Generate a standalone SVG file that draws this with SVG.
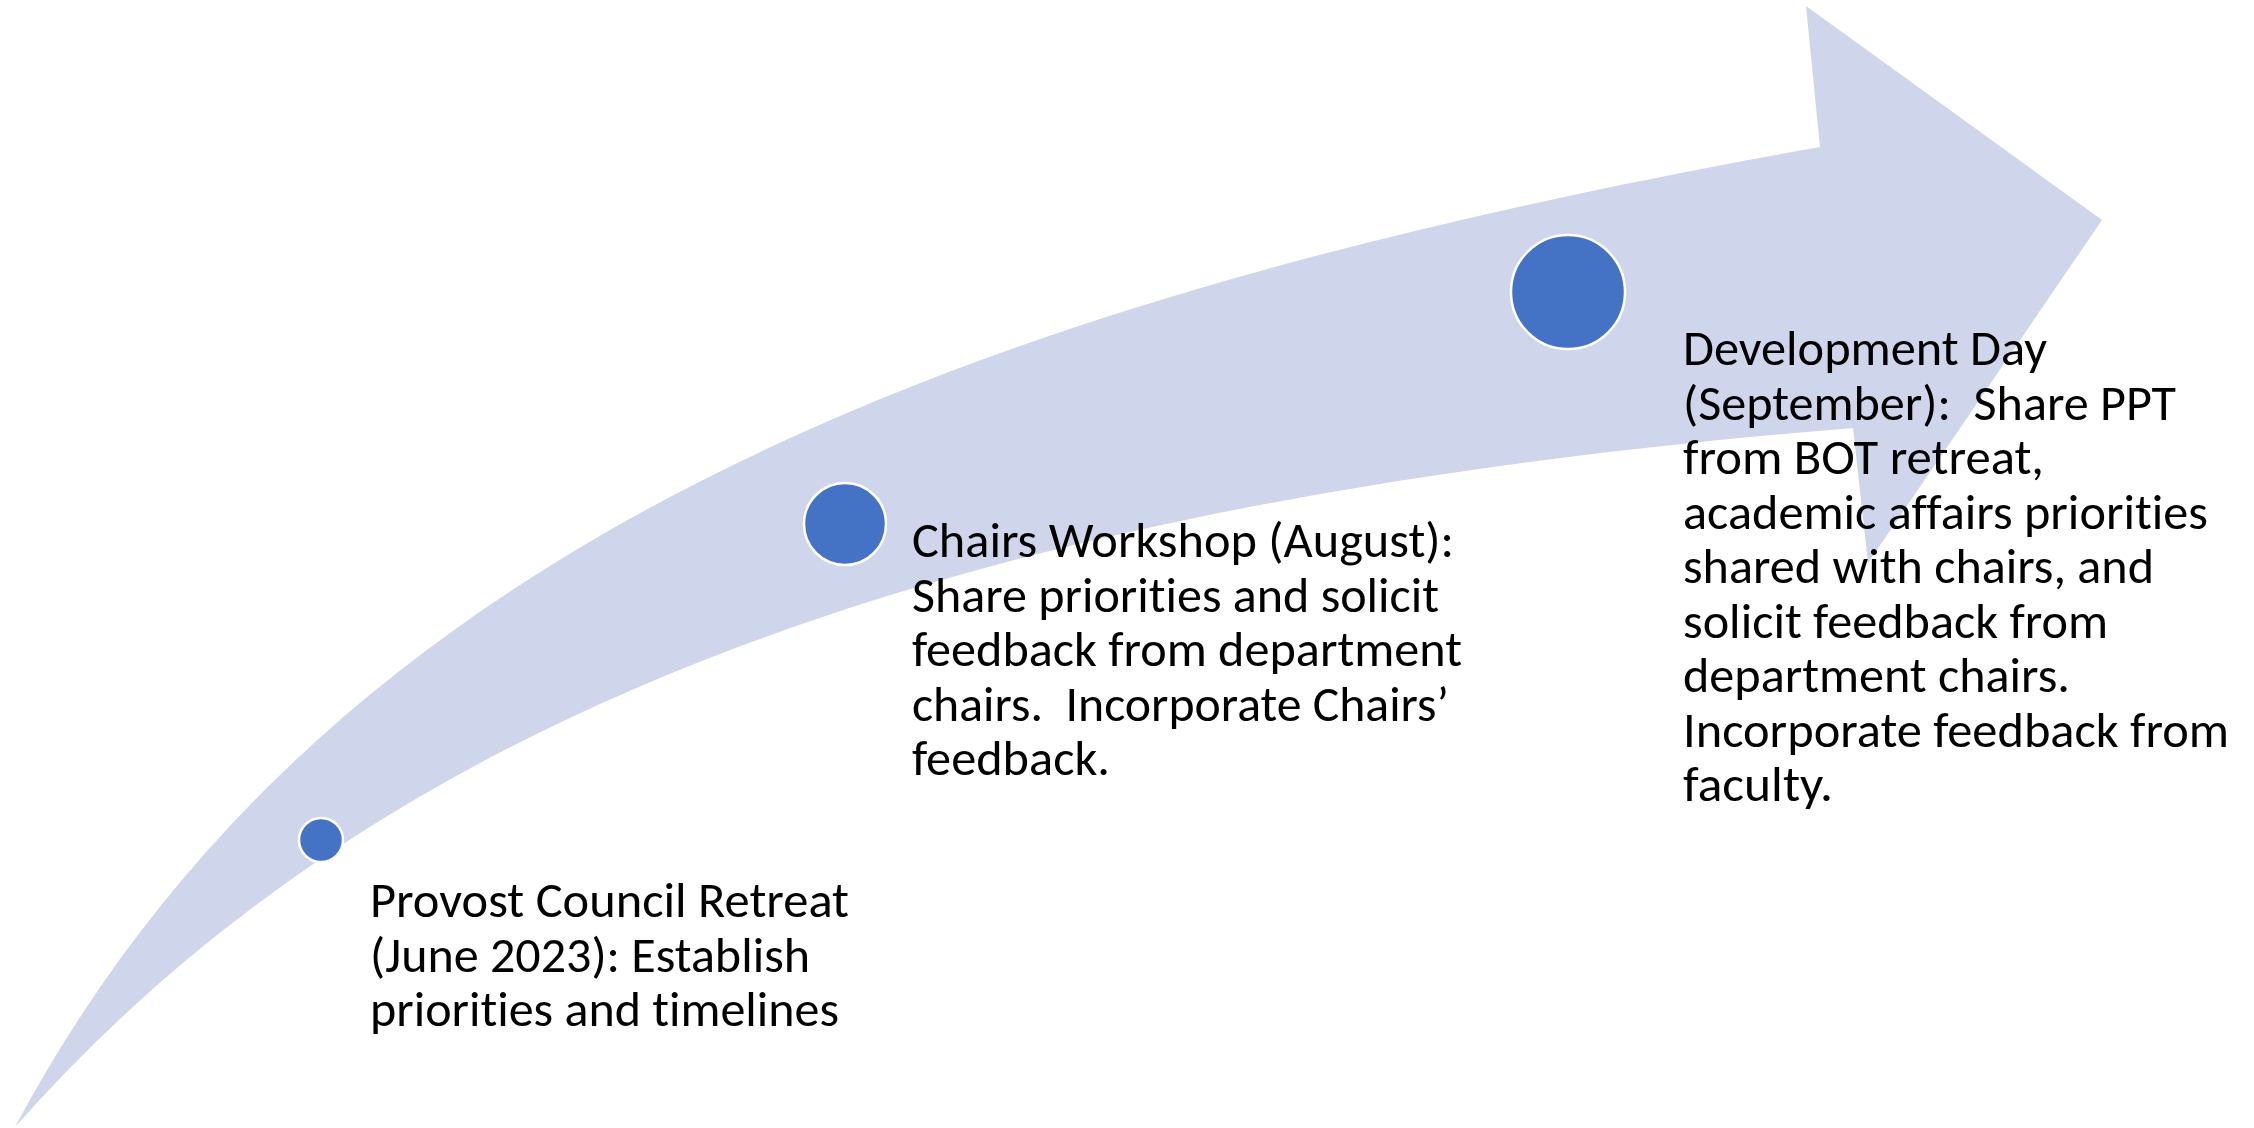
<svg xmlns="http://www.w3.org/2000/svg" width="2254" height="1128" viewBox="0 0 2254 1128">
<style>
.bg{fill:#ffffff}
.arrow{fill:#CFD5EA}
.dot{fill:#4472C4;stroke:#ffffff;stroke-width:2.5}
.lbl{font-family:Carlito,Calibri,Lato,"Liberation Sans",sans-serif;font-size:50px;fill:#000000;font-variant-ligatures:none;font-feature-settings:"liga" 0,"clig" 0}
</style>
<rect class="bg" x="0" y="0" width="2254" height="1128"/>
<g id="timeline-arrow">
<path class="arrow" d="M15,1127 C320.5,555 934,304.5 1820,147 L1806,6 L2102,220 L1868,563 L1853,428 C955.7,500.9 385.7,707.6 15,1127 Z"/>
</g>
<g id="connectors"></g>
<g id="node-provost">
<circle class="dot" cx="321" cy="840" r="22"/>
<text class="lbl" xml:space="preserve"><tspan x="370" y="917" textLength="479" lengthAdjust="spacingAndGlyphs">Provost Council Retreat</tspan><tspan x="370" y="971.5" textLength="440" lengthAdjust="spacingAndGlyphs">(June 2023): Establish</tspan><tspan x="370" y="1026" textLength="469" lengthAdjust="spacingAndGlyphs">priorities and timelines</tspan></text>
</g>
<g id="node-chairs">
<circle class="dot" cx="845" cy="524" r="41"/>
<text class="lbl" xml:space="preserve"><tspan x="912" y="557" textLength="542" lengthAdjust="spacingAndGlyphs">Chairs Workshop (August):</tspan><tspan x="912" y="611.5" textLength="527" lengthAdjust="spacingAndGlyphs">Share priorities and solicit</tspan><tspan x="912" y="666" textLength="550" lengthAdjust="spacingAndGlyphs">feedback from department</tspan><tspan x="912" y="720.5" textLength="537" lengthAdjust="spacingAndGlyphs">chairs.  Incorporate Chairs’</tspan><tspan x="912" y="775" textLength="198" lengthAdjust="spacingAndGlyphs">feedback.</tspan></text>
</g>
<g id="node-development">
<circle class="dot" cx="1568" cy="292" r="57"/>
<text class="lbl" xml:space="preserve"><tspan x="1683" y="365" textLength="364" lengthAdjust="spacingAndGlyphs">Development Day</tspan><tspan x="1683" y="419.5" textLength="493" lengthAdjust="spacingAndGlyphs">(September):  Share PPT</tspan><tspan x="1683" y="474" textLength="361" lengthAdjust="spacingAndGlyphs">from BOT retreat,</tspan><tspan x="1683" y="528.5" textLength="525" lengthAdjust="spacingAndGlyphs">academic affairs priorities</tspan><tspan x="1683" y="583" textLength="471" lengthAdjust="spacingAndGlyphs">shared with chairs, and</tspan><tspan x="1683" y="637.5" textLength="425" lengthAdjust="spacingAndGlyphs">solicit feedback from</tspan><tspan x="1683" y="692" textLength="387" lengthAdjust="spacingAndGlyphs">department chairs.</tspan><tspan x="1683" y="746.5" textLength="546" lengthAdjust="spacingAndGlyphs">Incorporate feedback from</tspan><tspan x="1683" y="801" textLength="150" lengthAdjust="spacingAndGlyphs">faculty.</tspan></text>
</g>
</svg>
